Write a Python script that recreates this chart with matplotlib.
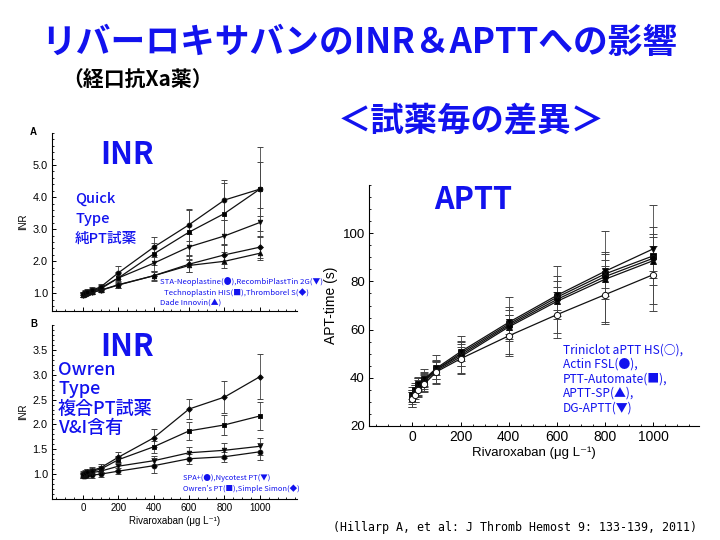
import matplotlib
matplotlib.use('Agg')
import matplotlib.pyplot as plt
from matplotlib.ticker import MultipleLocator, FormatStrFormatter

# ---------------- data ----------------
conc = [0, 10, 25, 50, 100, 200, 400, 600, 800, 1000]

# Panel A: Quick type INR
inr_neoplastine = [0.97, 1.01, 1.05, 1.10, 1.20, 1.64, 2.44, 3.14, 3.91, 4.25]
inr_technoplastin = [0.96, 1.00, 1.04, 1.08, 1.17, 1.48, 2.23, 2.91, 3.49, 4.25]
inr_recombiplastin = [0.96, 1.00, 1.03, 1.06, 1.14, 1.48, 1.94, 2.45, 2.79, 3.21]
inr_thromborel = [0.95, 0.98, 1.01, 1.04, 1.10, 1.27, 1.55, 1.91, 2.20, 2.44]
inr_innovin = [0.95, 0.98, 1.00, 1.03, 1.09, 1.26, 1.55, 1.87, 2.00, 2.25]
sd_neoplastine = [0.08, 0.08, 0.08, 0.09, 0.10, 0.20, 0.32, 0.50, 0.62, 1.30]
sd_technoplastin = [0.08, 0.08, 0.08, 0.09, 0.10, 0.18, 0.35, 0.70, 0.95, 0.85]
sd_recombiplastin = [0.07, 0.07, 0.07, 0.08, 0.09, 0.15, 0.25, 0.40, 0.50, 0.45]
sd_thromborel = [0.06, 0.06, 0.06, 0.07, 0.07, 0.10, 0.15, 0.25, 0.30, 0.35]
sd_innovin = [0.05, 0.05, 0.05, 0.06, 0.06, 0.08, 0.12, 0.20, 0.20, 0.20]

# Panel B: Owren type INR
inr_spa = [0.97, 0.97, 0.98, 0.98, 1.00, 1.06, 1.17, 1.31, 1.35, 1.45]
inr_nycotest = [0.98, 1.00, 1.02, 1.03, 1.06, 1.16, 1.27, 1.43, 1.48, 1.56]
inr_owren = [0.99, 1.01, 1.04, 1.06, 1.10, 1.29, 1.55, 1.87, 1.99, 2.17]
inr_simplesimon = [1.00, 1.02, 1.05, 1.07, 1.13, 1.34, 1.73, 2.31, 2.55, 2.96]
sd_spa = [0.05, 0.05, 0.05, 0.05, 0.05, 0.06, 0.15, 0.10, 0.10, 0.17]
sd_nycotest = [0.05, 0.05, 0.05, 0.05, 0.06, 0.07, 0.10, 0.12, 0.15, 0.17]
sd_owren = [0.06, 0.06, 0.06, 0.06, 0.07, 0.08, 0.12, 0.18, 0.20, 0.28]
sd_simplesimon = [0.06, 0.06, 0.06, 0.07, 0.08, 0.10, 0.18, 0.21, 0.32, 0.45]

# Panel C: APTT (s)
aptt_triniclot = [31.0, 33.0, 35.0, 37.5, 42.5, 47.9, 57.4, 66.2, 74.5, 82.8]
aptt_actin = [32.0, 34.0, 36.5, 39.0, 43.5, 49.4, 61.7, 72.5, 82.0, 89.6]
aptt_automate = [32.5, 34.5, 37.0, 39.0, 43.5, 50.1, 62.3, 73.4, 83.1, 90.6]
aptt_sp = [31.5, 33.5, 36.0, 38.5, 43.0, 48.7, 61.1, 71.7, 80.9, 88.6]
aptt_dg = [33.0, 35.0, 37.5, 39.5, 44.0, 50.8, 63.0, 74.2, 84.2, 93.5]
sd_triniclot = [3.0, 3.0, 3.0, 3.5, 4.5, 6.0, 8.5, 9.5, 12.0, 12.0]
sd_actin = [4.0, 4.0, 4.0, 4.5, 6.0, 8.0, 12.0, 14.0, 19.0, 22.0]
sd_automate = [2.5, 2.5, 3.0, 3.0, 4.0, 5.0, 7.0, 9.0, 9.0, 9.0]
sd_sp = [2.5, 2.5, 3.0, 3.0, 3.5, 4.0, 5.0, 6.0, 8.0, 10.0]
sd_dg = [2.0, 2.0, 2.5, 3.0, 3.0, 4.0, 5.0, 6.0, 7.0, 9.0]

x_ticks = [0, 200, 400, 600, 800, 1000]
inrA_ticks = [1.0, 2.0, 3.0, 4.0, 5.0]
inrB_ticks = [1.0, 1.5, 2.0, 2.5, 3.0, 3.5]
aptt_ticks = [20, 40, 60, 80, 100]

# ---------------- style ----------------
plt.rcParams['font.family'] = ['Liberation Sans', 'DejaVu Sans', 'Noto Sans CJK JP']
JP = ['Noto Sans CJK JP', 'DejaVu Sans']
MONO = ['DejaVu Sans Mono', 'Noto Sans CJK JP']
BLUE = '#1212EE'

fig = plt.figure(figsize=(7.2, 5.4), dpi=100)
fig.patch.set_facecolor('white')


def px(x, y):
    return x / 720.0, 1 - y / 540.0


def add_axes(l, t, r, b):
    return fig.add_axes([l / 720.0, 1 - b / 540.0, (r - l) / 720.0, (b - t) / 540.0])


def style(ax, xfs, yfs):
    for s in ('top', 'right'):
        ax.spines[s].set_visible(False)
    for s in ('left', 'bottom'):
        ax.spines[s].set_linewidth(0.8)
    ax.tick_params(which='major', direction='in', length=3, width=0.7, pad=3)
    ax.tick_params(axis='x', labelsize=xfs)
    ax.tick_params(axis='y', labelsize=yfs)
    ax.tick_params(which='minor', direction='in', length=1.6, width=0.6)
    ax.xaxis.set_minor_locator(MultipleLocator(50))


def series(ax, y, sd, marker, ms, cap, mfc='black'):
    ax.errorbar(conc, y, yerr=sd, fmt='-', marker=marker, color='#111111', lw=0.9,
                ms=ms, mfc=mfc, mec='#111111', mew=0.7, ecolor='#444444',
                elinewidth=0.6, capsize=cap, capthick=0.6)


axA = add_axes(52, 133, 297, 311)
axB = add_axes(52, 325, 297, 499)
axC = add_axes(369, 185, 699, 426)

# Panel A
style(axA, 6.5, 7.8)
series(axA, inr_innovin, sd_innovin, '^', 3.2, 2)
series(axA, inr_thromborel, sd_thromborel, 'D', 2.8, 2)
series(axA, inr_recombiplastin, sd_recombiplastin, 'v', 3.2, 2)
series(axA, inr_technoplastin, sd_technoplastin, 's', 3.2, 2)
series(axA, inr_neoplastine, sd_neoplastine, 'o', 3.4, 2)
axA.set_xlim(-175, 1210)
axA.set_ylim(0.45, 6.0)
axA.set_xticks(x_ticks)
axA.set_yticks(inrA_ticks)
axA.yaxis.set_major_formatter(FormatStrFormatter('%.1f'))
axA.yaxis.set_minor_locator(MultipleLocator(0.2))
axA.tick_params(axis='x', labelbottom=False)
axA.set_ylabel('INR', fontsize=7, labelpad=3)

# Panel B
style(axB, 7, 7.8)
series(axB, inr_spa, sd_spa, 'o', 3.4, 2)
series(axB, inr_nycotest, sd_nycotest, 'v', 3.2, 2)
series(axB, inr_owren, sd_owren, 's', 3.2, 2)
series(axB, inr_simplesimon, sd_simplesimon, 'D', 2.8, 2)
axB.set_xlim(-175, 1210)
axB.set_ylim(0.5, 4.0)
axB.set_xticks(x_ticks)
axB.set_yticks(inrB_ticks)
axB.yaxis.set_major_formatter(FormatStrFormatter('%.1f'))
axB.yaxis.set_minor_locator(MultipleLocator(0.1))
axB.set_ylabel('INR', fontsize=7, labelpad=3)
axB.set_xlabel('Rivaroxaban (μg L⁻¹)', fontsize=7, labelpad=2)

# Panel C
style(axC, 10, 9.5)
series(axC, aptt_sp, sd_sp, '^', 4.2, 3)
series(axC, aptt_automate, sd_automate, 's', 4.2, 3)
series(axC, aptt_actin, sd_actin, 'o', 4.2, 3)
series(axC, aptt_dg, sd_dg, 'v', 4.2, 3)
series(axC, aptt_triniclot, sd_triniclot, 'o', 4.5, 3, mfc='white')
axC.set_xlim(-180, 1190)
axC.set_ylim(20, 120)
axC.set_xticks(x_ticks)
axC.set_yticks(aptt_ticks)
axC.yaxis.set_minor_locator(MultipleLocator(5))
axC.set_ylabel('APT-time (s)', fontsize=10, labelpad=3)
axC.set_xlabel('Rivaroxaban (μg L⁻¹)', fontsize=9.5, labelpad=2)

# ---------------- texts ----------------
fig.text(*px(359, 42), 'リバーロキサバンのINR＆APTTへの影響', family=JP, weight='bold',
         fontsize=25, color=BLUE, ha='center', va='center')
fig.text(*px(62, 80), '（経口抗Xa薬）', family=JP, weight='bold', fontsize=15,
         color='black', ha='left', va='center')
fig.text(*px(471, 122), '＜試薬毎の差異＞', family=JP, weight='bold', fontsize=24,
         color=BLUE, ha='center', va='center')

fig.text(*px(30, 132), 'A', fontsize=7, weight='bold', ha='left', va='center')
fig.text(*px(30, 324), 'B', fontsize=7, weight='bold', ha='left', va='center')

fig.text(*px(127, 155), 'INR', family=JP, weight='bold', fontsize=22, color=BLUE,
         ha='center', va='center')
fig.text(*px(127, 347), 'INR', family=JP, weight='bold', fontsize=22, color=BLUE,
         ha='center', va='center')
fig.text(*px(473, 200), 'APTT', family=JP, weight='bold', fontsize=22, color=BLUE,
         ha='center', va='center')

for yy, t in zip([199, 219, 239], ['Quick', 'Type', '純PT試薬']):
    fig.text(*px(75, yy), t, family=JP, fontsize=10.5, weight='medium', color=BLUE,
             ha='left', va='center')
for yy, t in zip([370, 389, 409, 428], ['Owren', 'Type', '複合PT試薬', 'V&I含有']):
    fig.text(*px(58, yy), t, family=JP, fontsize=13, weight='medium', color=BLUE,
             ha='left', va='center')

legA = [(160, 282, 'STA-Neoplastine(●),RecombiPlastTin 2G(▼)'),
        (164, 293, 'Technoplastin HIS(■),Thromborel S(◆)'),
        (160, 303, 'Dade Innovin(▲)')]
for xx, yy, t in legA:
    fig.text(*px(xx, yy), t, family=JP, fontsize=5.6, color=BLUE, ha='left', va='center')
legB = [(183, 478, 'SPA+(●),Nycotest PT(▼)'),
        (183, 489, 'Owren’s PT(■),Simple Simon(◆)')]
for xx, yy, t in legB:
    fig.text(*px(xx, yy), t, family=JP, fontsize=5.4, color=BLUE, ha='left', va='center')
legC = ['Triniclot aPTT HS(○),', 'Actin FSL(●),', 'PTT-Automate(■),', 'APTT-SP(▲),', 'DG-APTT(▼)']
for i, t in enumerate(legC):
    fig.text(*px(563, 350 + 14.5 * i), t, family=JP, fontsize=8.6, color=BLUE,
             ha='left', va='center')

fig.text(*px(333, 527), '(Hillarp A, et al: J Thromb Hemost 9: 133-139, 2011)', family=MONO,
         fontsize=8.4, color='black', ha='left', va='center')

fig.savefig('out.png', dpi=100, facecolor='white')
